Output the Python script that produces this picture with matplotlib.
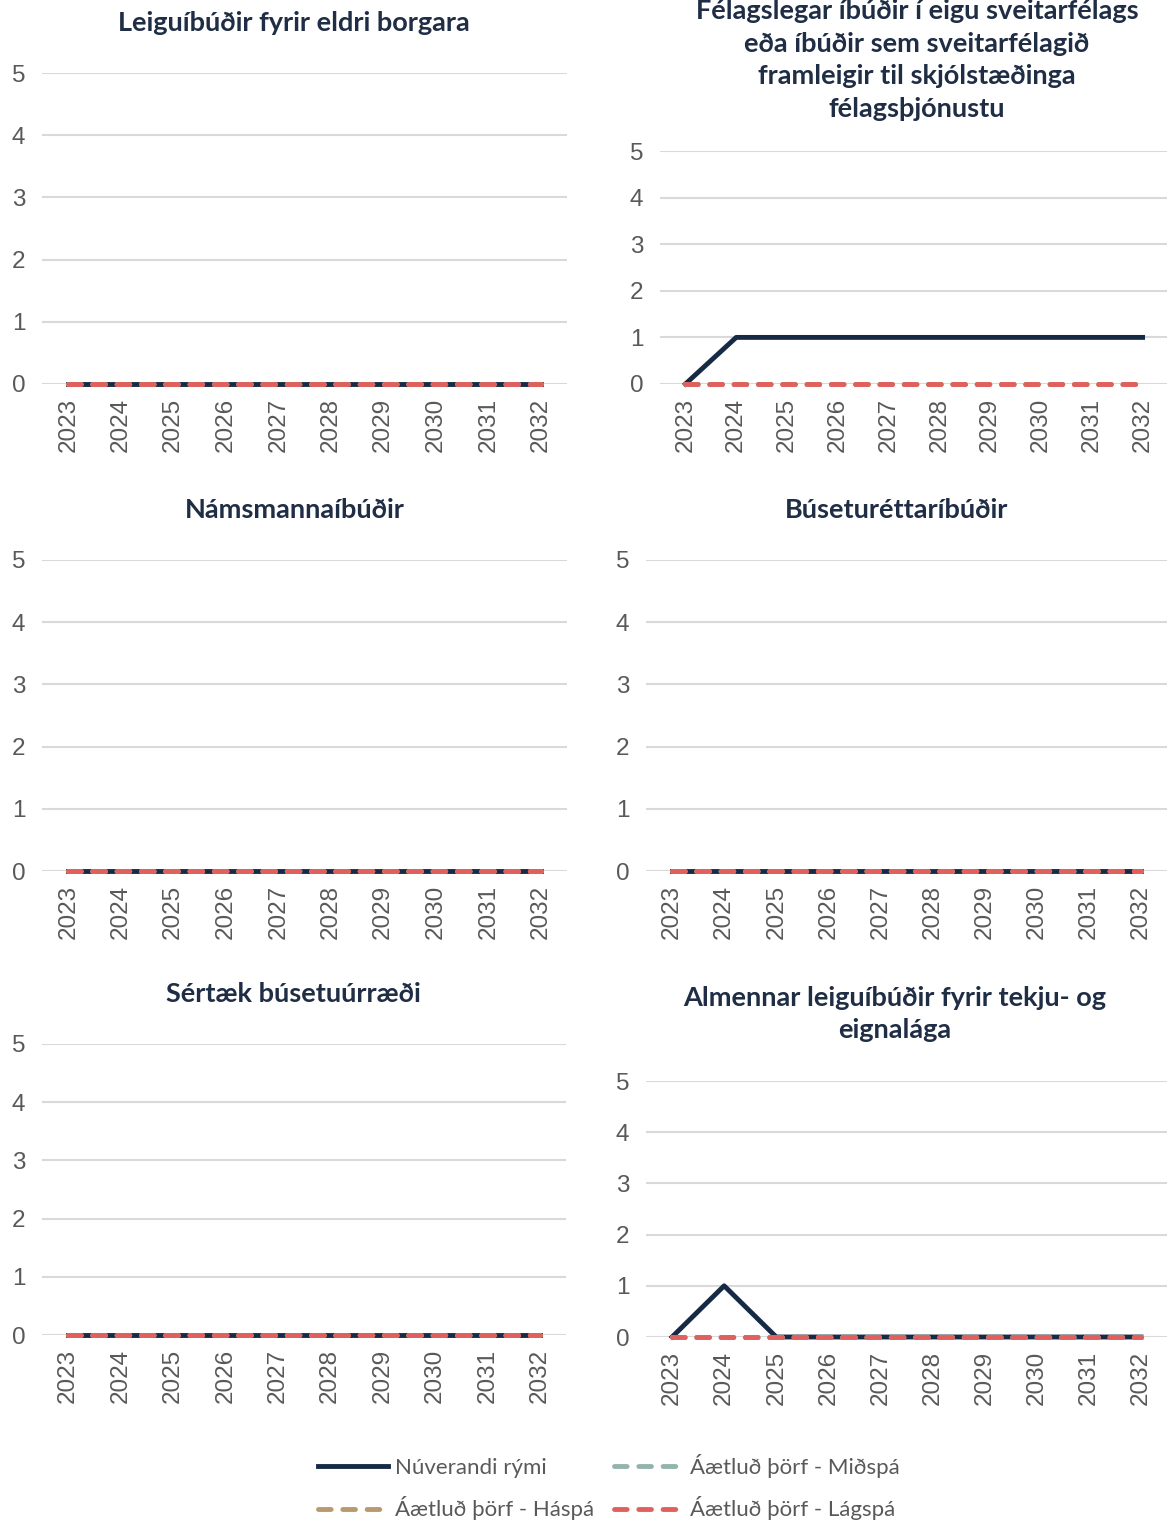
import matplotlib.pyplot as plt
import numpy as np

plt.rcParams['font.family'] = ['Liberation Sans', 'DejaVu Sans']

years = ['2023', '2024', '2025', '2026', '2027', '2028', '2029', '2030', '2031', '2032']

titles = ['Leiguíbúðir fyrir eldri borgara',
          'Félagslegar íbúðir í eigu sveitarfélags\neða íbúðir sem sveitarfélagið\nframleigir til skjólstæðinga\nfélagsþjónustu',
          'Námsmannaíbúðir',
          'Búseturéttaríbúðir',
          'Sértæk búsetuúrræði',
          'Almennar leiguíbúðir fyrir tekju- og\neignalága']

nuverandi = [[0, 0, 0, 0, 0, 0, 0, 0, 0, 0],
             [0, 1, 1, 1, 1, 1, 1, 1, 1, 1],
             [0, 0, 0, 0, 0, 0, 0, 0, 0, 0],
             [0, 0, 0, 0, 0, 0, 0, 0, 0, 0],
             [0, 0, 0, 0, 0, 0, 0, 0, 0, 0],
             [0, 1, 0, 0, 0, 0, 0, 0, 0, 0]]
midspa = [[0] * 10 for _ in range(6)]
haspa = [[0] * 10 for _ in range(6)]
lagspa = [[0] * 10 for _ in range(6)]

labels = ['Núverandi rými', 'Áætluð þörf - Miðspá', 'Áætluð þörf - Háspá', 'Áætluð þörf - Lágspá']
colors = ['#172A45', '#95B3AE', '#B9996F', '#E0605E']

W, H = 1167, 1522
# plot area in pixels: x0, x1, y(top=5), y(bottom=0)
boxes = [(42, 567, 73, 384), (660, 1168, 151, 384),
         (42, 567, 560, 871), (646, 1167, 560, 871),
         (42, 566, 1044, 1335), (646, 1167, 1081, 1337)]
# title centre in pixels
tpos = [(294, 23), (917, 60), (295, 510), (897, 510), (293, 1013), (895, 1014)]
tpos[4] = (293, 994)

fig = plt.figure(figsize=(W / 100, H / 100), dpi=100)

dash = (0, (2.6, 2.4))
handles = []
for i in range(6):
    x0, x1, yt, yb = boxes[i]
    ax = fig.add_axes([x0 / W, 1 - yb / H, (x1 - x0) / W, (yb - yt) / H])
    x = np.arange(len(years))
    h0, = ax.plot(x, nuverandi[i], color=colors[0], lw=3.5, clip_on=False, zorder=3)
    h1, = ax.plot(x, midspa[i], color=colors[1], lw=3.5, ls=dash, dash_capstyle='round', clip_on=False, zorder=4)
    h2, = ax.plot(x, haspa[i], color=colors[2], lw=3.5, ls=dash, dash_capstyle='round', clip_on=False, zorder=4)
    h3, = ax.plot(x, lagspa[i], color=colors[3], lw=3.5, ls=dash, dash_capstyle='round', clip_on=False, zorder=5)
    handles = [h0, h2, h1, h3]
    ax.set_xlim(-0.5, len(years) - 0.5)
    ax.set_ylim(0, 5)
    ax.set_yticks(range(6))
    ax.set_xticks(x)
    ax.set_xticklabels(years, rotation=90)
    ax.tick_params(length=0, labelsize=17.5, labelcolor='#595959')
    ax.tick_params(axis='y', pad=12)
    ax.tick_params(axis='x', pad=10)
    ax.grid(axis='y', color='#D9D9D9', lw=1.5)
    ax.set_axisbelow(True)
    for s in ax.spines.values():
        s.set_visible(False)
    fig.text(tpos[i][0] / W, 1 - tpos[i][1] / H, titles[i], ha='center', va='center',
             fontsize=19.5, fontweight='bold', color='#1F2D45', family='Lato', linespacing=1.42)

fig.legend(handles, [labels[0], labels[2], labels[1], labels[3]], ncol=2, loc='center',
           bbox_to_anchor=(609 / W, 1 - 1487 / H), frameon=False,
           labelcolor='#595959', prop={'family': 'Lato', 'size': 16}, handlelength=3.15,
           handletextpad=0.3, columnspacing=0.9, labelspacing=0.85)

fig.savefig('out.png', dpi=100)
